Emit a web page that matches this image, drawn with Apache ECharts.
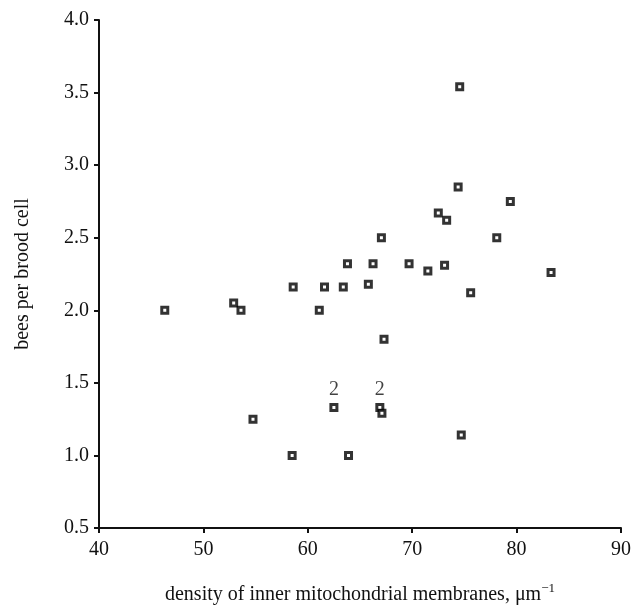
<!DOCTYPE html>
<html>
<head>
<meta charset="utf-8">
<script src="https://cdn.jsdelivr.net/npm/echarts@6/dist/echarts.min.js"></script>
<style>
  html, body { margin: 0; padding: 0; background: #fff; }
  #chart { width: 635px; height: 615px; }
</style>
</head>
<body>
<div id="chart"></div>
<script>
// density of inner mitochondrial membranes (x) vs bees per brood cell (y)
var density = [46.3, 52.9, 53.6, 54.75, 58.5, 58.6, 61.1, 61.6, 62.5, 63.4,
  63.8, 63.9, 65.8, 66.25, 66.9, 67.05, 67.1, 67.3, 69.7, 71.5,
  72.5, 73.1, 73.3, 74.4, 74.55, 74.7, 75.6, 78.1, 79.4, 83.3]
var beesPerCell = [2.0, 2.05, 2.0, 1.25, 1.0, 2.16, 2.0, 2.16, 1.33, 2.16,
  2.32, 1.0, 2.18, 2.32, 1.33, 2.5, 1.29, 1.8, 2.32, 2.27,
  2.67, 2.31, 2.62, 2.85, 3.54, 1.14, 2.12, 2.5, 2.75, 2.26]
// number of colonies sharing a point (only shown when > 1)
var pointCount = [1, 1, 1, 1, 1, 1, 1, 1, 2, 1,
  1, 1, 1, 1, 2, 1, 1, 1, 1, 1,
  1, 1, 1, 1, 1, 1, 1, 1, 1, 1]

var fontName = 'Liberation Serif'
var ink = '#111'

var points = density.map(function (x, i) {
  return [x, beesPerCell[i], pointCount[i]]
})

var chart = echarts.init(document.getElementById('chart'))
chart.setOption({
  animation: false,
  grid: {
    left: 99,
    right: 14,
    top: 20,
    bottom: 87
  },
  xAxis: {
    type: 'value',
    min: 40,
    max: 90,
    interval: 10,
    name: '{t|density of inner mitochondrial membranes, μm}{s|−1}',
    nameLocation: 'middle',
    nameGap: 54,
    nameTextStyle: {
      rich: {
        t: { fontFamily: fontName, fontSize: 20, color: ink },
        s: { fontFamily: fontName, fontSize: 13, color: ink, padding: [0, 0, 12, 0] }
      }
    },
    splitLine: { show: false },
    axisLine: { lineStyle: { color: ink, width: 2 } },
    axisTick: { inside: false, length: 5, lineStyle: { color: ink, width: 2 } },
    axisLabel: { fontFamily: fontName, fontSize: 20, color: ink, margin: 12 }
  },
  yAxis: {
    type: 'value',
    min: 0.5,
    max: 4.0,
    interval: 0.5,
    name: 'bees per brood cell',
    nameLocation: 'middle',
    nameGap: 66,
    nameTextStyle: { fontFamily: fontName, fontSize: 20, color: ink },
    splitLine: { show: false },
    axisLine: { lineStyle: { color: ink, width: 2 } },
    axisTick: { inside: false, length: 5, lineStyle: { color: ink, width: 2 } },
    axisLabel: {
      fontFamily: fontName,
      fontSize: 20,
      color: ink,
      margin: 10,
      formatter: function (v) { return v.toFixed(1) }
    }
  },
  series: [
    {
      type: 'scatter',
      data: points,
      symbol: 'rect',
      symbolSize: 6,
      itemStyle: { color: '#fff', borderColor: '#000', borderWidth: 3 },
      label: {
        show: true,
        position: 'top',
        distance: 3,
        fontFamily: fontName,
        fontSize: 20,
        color: ink,
        formatter: function (p) { return p.value[2] > 1 ? String(p.value[2]) : '' }
      },
      emphasis: { disabled: true }
    }
  ]
})
</script>
</body>
</html>
